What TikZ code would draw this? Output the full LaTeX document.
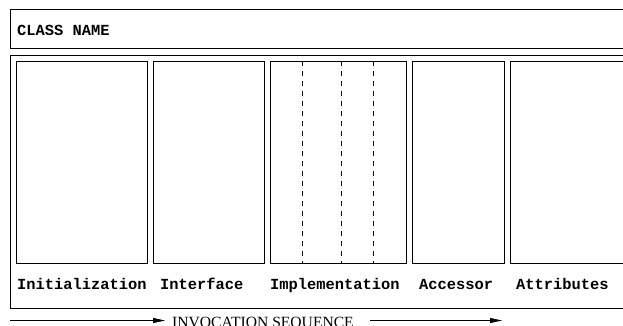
\documentclass[tikz,border=0pt]{standalone}
\usepackage{fontspec}
\setmainfont{Liberation Serif}
\newfontfamily\monob{Liberation Mono}
\usetikzlibrary{arrows.meta}
\begin{document}
\begin{tikzpicture}[x=1pt,y=-1pt,
  box/.style={draw=black, line width=0.9pt, anchor=north west, inner sep=0pt, outer sep=0pt},
  lab/.style={anchor=base west, inner sep=0pt, font=\monob\bfseries\fontsize{15.4}{18}\selectfont},
  seqtxt/.style={anchor=base west, inner sep=0pt, font=\fontsize{15.6}{18}\selectfont},
  dashsep/.style={line width=0.8pt, dash pattern=on 5pt off 5pt},
  seqarrow/.style={line width=0.8pt, -{Triangle[length=12pt,width=5pt]}}]
\useasboundingbox (0,0) rectangle (623,326);
\begin{scope}
\clip (0,0) rectangle (623,326);
% top class name box
\node[box, minimum width=620pt, minimum height=39pt] (top) at (10,9) {};
\node[lab] (cname) at (17,36) {CLASS NAME};
% outer body box
\node[box, minimum width=620pt, minimum height=253pt] (outer) at (10,55) {};
% inner boxes
\node[box, minimum width=131pt, minimum height=202pt] (init) at (16,61) {};
\node[box, minimum width=111pt, minimum height=202pt] (iface) at (153,61) {};
\node[box, minimum width=136pt, minimum height=202pt] (impl) at (270,61) {};
\node[box, minimum width=92pt, minimum height=202pt] (acc) at (412,61) {};
\node[box, minimum width=120pt, minimum height=202pt] (attr) at (510,61) {};
% dashed separators in implementation
\draw[dashsep] (302,61) -- (302,263);
\draw[dashsep] (341,61) -- (341,263);
\draw[dashsep] (373,61) -- (373,263);
% labels
\node[lab] (linit) at (17,289) {Initialization};
\node[lab] (liface) at (160,289) {Interface};
\node[lab] (limpl) at (270,289) {Implementation};
\node[lab] (lacc) at (419,289) {Accessor};
\node[lab] (lattr) at (516,289) {Attributes};
% invocation sequence
\coordinate (s0) at (10,320.5);
\coordinate (s1) at (165,320.5);
\coordinate (s2) at (370,320.5);
\coordinate (s3) at (502,320.5);
\node[seqtxt] (seq) at (172,327.5) {INVOCATION SEQUENCE};
\draw[seqarrow] (s0) -- (s1);
\draw[seqarrow] (s2) -- (s3);
\end{scope}
\end{tikzpicture}
\end{document}
